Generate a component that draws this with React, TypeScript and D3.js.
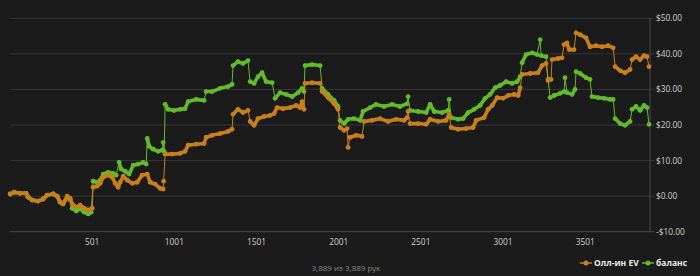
import React from "react";
import * as d3 from "d3";

type Pt = [number, number];

const evSeries: Pt[] = [
  [2,0.6],[26,1.1],[62,0.8],[99,0.8],[111,-0.3],[136,-1.1],[172,-1.4],[203,-0.8],[227,0.3],[264,0.6],[288,0],[306,-1.7],[324,-2.2],[349,0],[367,-0.6],[379,-2.2],[404,-3.1],[428,-2.5],[452,-3.4],[477,-3.9],[501,-3.4],
  [507,2.5],[531,2.8],[550,3.6],[568,5.3],[598,5.9],[623,5.3],[641,3.6],[659,2.5],[671,3.9],[690,5.6],[714,4.5],[745,3.6],[775,3.9],[805,5.9],[836,6.2],[854,3.9],[884,3.4],[915,2.2],[933,2.0],[936,4.2],
  [945,11.8],[987,11.8],[1036,12.0],[1066,12.6],[1085,14.3],[1133,14.6],[1182,14.8],[1194,16.5],[1230,17.1],[1279,17.6],[1328,18.2],[1352,18.8],
  [1358,23.0],[1388,24.4],[1419,23.5],[1449,24.1],[1462,21.0],[1486,19.9],[1510,21.8],[1547,22.4],[1583,22.7],[1608,23.2],[1626,24.9],[1663,24.6],[1705,24.9],[1742,25.5],[1766,24.9],[1778,26.6],[1790,24.4],
  [1796,31.7],[1839,31.9],[1888,31.7],[1900,29.4],[1936,27.7],[1973,26.0],[1997,24.4],[2009,19.3],[2034,18.5],[2052,19.0],[2058,13.7],[2070,16.5],[2107,17.1],[2143,16.8],
  [2155,21.0],[2204,21.3],[2253,21.8],[2301,21.0],[2350,21.6],[2399,21.3],[2417,22.1],[2423,23.8],[2435,20.4],[2484,20.4],[2533,20.2],[2557,21.6],[2606,21.0],[2654,21.3],[2673,23.0],
  [2685,19.3],[2727,18.8],[2776,19.0],[2819,19.3],[2837,21.3],[2886,22.1],[2910,24.4],[2935,25.5],[2965,27.7],[3001,27.5],[3032,28.3],[3068,28.6],[3093,28.3],[3105,30.5],
  [3117,34.2],[3166,34.5],[3214,34.7],[3238,36.7],[3263,37.3],[3275,32.5],[3293,32.8],[3299,38.4],[3336,38.7],[3360,38.9],[3372,42.6],[3390,43.1],[3403,41.2],[3433,41.2],
  [3445,45.9],[3470,45.4],[3506,44.5],[3530,42.0],[3567,42.3],[3603,42.0],[3640,42.3],[3671,41.7],[3683,36.4],[3713,35.3],[3743,34.7],[3774,35.6],[3786,38.4],[3810,39.2],[3835,38.4],[3859,39.5],[3877,39.2],[3889,36.4],
];

const balanceSeries: Pt[] = [
  [2,0.6],[26,1.1],[62,0.8],[99,0.8],[111,-0.3],[136,-1.1],[172,-1.4],[203,-0.8],[227,0.3],[264,0.6],[288,0],[306,-1.7],[324,-2.2],[349,-0.3],[367,-1.1],
  [379,-3.4],[404,-4.2],[428,-3.6],[452,-4.5],[477,-5.0],[495,-4.5],
  [507,4.2],[531,3.9],[550,4.5],[568,6.2],[598,6.7],[629,6.4],[647,5.9],[665,9.5],[677,7.6],[702,7.0],[726,6.2],[751,8.7],[781,9.0],[811,9.5],[830,9.0],
  [836,16.2],[848,14.0],[872,13.2],[902,12.6],[927,12.9],[933,15.1],[939,12.6],
  [945,25.8],[963,24.4],[999,24.1],[1036,24.4],[1066,24.6],[1085,26.6],[1133,27.2],[1182,26.9],[1194,29.4],[1230,29.4],[1279,30.3],[1328,30.8],[1352,31.4],
  [1358,36.7],[1388,37.8],[1419,37.3],[1449,38.1],[1462,32.2],[1486,31.7],[1510,33.6],[1535,34.7],[1559,32.2],[1596,31.9],[1614,27.5],[1645,29.1],[1681,28.6],[1718,28.0],[1754,29.1],[1778,30.3],[1790,29.4],
  [1796,36.7],[1839,37.0],[1888,36.7],[1900,30.3],[1936,28.6],[1973,26.9],[1997,25.2],[2009,21.3],[2034,20.4],[2058,21.6],[2094,21.8],[2131,21.3],
  [2149,23.8],[2192,24.9],[2228,25.8],[2277,25.2],[2326,25.8],[2374,25.2],[2417,26.0],[2423,28.0],[2435,24.1],[2484,23.8],[2533,23.5],[2557,25.8],[2582,23.8],[2630,23.5],[2667,24.1],[2673,27.2],
  [2685,22.1],[2727,21.6],[2758,21.8],[2788,23.5],[2825,24.4],[2861,25.5],[2892,27.5],[2922,28.6],[2953,30.5],[2983,31.1],[3020,32.2],[3056,31.7],[3087,32.2],[3105,33.6],
  [3117,37.5],[3141,39.8],[3178,40.3],[3208,39.8],[3227,44.0],[3233,39.5],[3263,39.2],[3275,32.8],[3287,27.7],[3312,28.3],[3348,28.9],[3372,29.4],[3378,33.3],[3390,29.1],[3421,28.6],[3439,30.0],
  [3445,35.0],[3470,34.5],[3506,33.3],[3530,32.8],[3542,28.0],[3579,27.7],[3615,27.5],[3652,27.2],[3671,27.2],[3683,21.8],[3713,20.4],[3743,19.9],[3774,21.0],[3786,24.4],[3810,25.2],[3835,24.1],[3859,25.5],[3877,24.9],[3889,20.2],
];

const yTicks = [-10, 0, 10, 20, 30, 40, 50];
const xTicks = [501, 1001, 1501, 2001, 2501, 3001, 3501];
const seriesNames = ["Олл-ин EV", "баланс"];
const caption = "3,889 из 3,889 рук";

const W = 700;
const H = 276;
const ORANGE = "#c97f1c";
const GREEN = "#62bb2a";
const FONT = "'Open Sans', sans-serif";

export default function App() {
  const x = d3.scaleLinear().domain([1, 3889]).range([10, 649]);
  const y = d3.scaleLinear().domain([-10, 50]).range([231.7, 18.3]);
  const fmt = (v: number) => (v < 0 ? "-$" : "$") + Math.abs(v).toFixed(2);

  const drawSeries = (data: Pt[], color: string) => {
    const pairs = d3.pairs(data);
    return (
      <g>
        {pairs.map(([a, b], i) => {
          const x1 = x(a[0]), y1 = y(a[1]), x2 = x(b[0]), y2 = y(b[1]);
          const jump = Math.abs(y2 - y1) > 2 * Math.abs(x2 - x1) + 4;
          return (
            <line
              key={i}
              x1={x1}
              y1={y1}
              x2={x2}
              y2={y2}
              stroke={color}
              strokeWidth={jump ? 1 : 3.6}
              strokeLinecap="round"
            />
          );
        })}
        {data.map((d, i) => (
          <circle key={i} cx={x(d[0])} cy={y(d[1])} r={2.4} fill={color} />
        ))}
      </g>
    );
  };

  return (
    <>
      <style>{`body{margin:0;background:#1b1b1b}`}</style>
      <svg width={W} height={H} style={{ display: "block", background: "#1b1b1b" }}>
        {yTicks.map((t) => (
          <g key={t}>
            <line
              x1={10}
              x2={654}
              y1={y(t)}
              y2={y(t)}
              stroke={t === -10 ? "#4a4a4a" : "#363636"}
              strokeWidth={1}
            />
            <text
              x={656}
              y={y(t)}
              dy="0.35em"
              fill="#d0d0d0"
              fontSize={8.4}
              fontFamily={FONT}
            >
              {fmt(t)}
            </text>
          </g>
        ))}
        <line x1={650} x2={650} y1={y(50)} y2={y(-10)} stroke="#4a4a4a" />
        {xTicks.map((t) => (
          <text
            key={t}
            x={x(t)}
            y={242}
            dy="0.35em"
            textAnchor="middle"
            fill="#d0d0d0"
            fontSize={8.4}
            fontFamily={FONT}
          >
            {t}
          </text>
        ))}
        {drawSeries(balanceSeries, GREEN)}
        {drawSeries(evSeries, ORANGE)}
        <text
          x={346}
          y={268}
          dy="0.35em"
          textAnchor="middle"
          fill="#8a8a8a"
          fontSize={8}
          fontFamily={FONT}
        >
          {caption}
        </text>
        <g>
          <line x1={580} x2={592} y1={263} y2={263} stroke={ORANGE} strokeWidth={1.5} />
          <circle cx={586} cy={263} r={2.5} fill={ORANGE} />
          <text x={594} y={263} dy="0.35em" fill="#ececec" fontSize={8.5} fontWeight="bold" fontFamily={FONT}>
            {seriesNames[0]}
          </text>
          <line x1={642} x2={654} y1={263} y2={263} stroke={GREEN} strokeWidth={1.5} />
          <circle cx={648} cy={263} r={2.5} fill={GREEN} />
          <text x={656} y={263} dy="0.35em" fill="#ececec" fontSize={8.5} fontWeight="bold" fontFamily={FONT}>
            {seriesNames[1]}
          </text>
        </g>
      </svg>
    </>
  );
}
